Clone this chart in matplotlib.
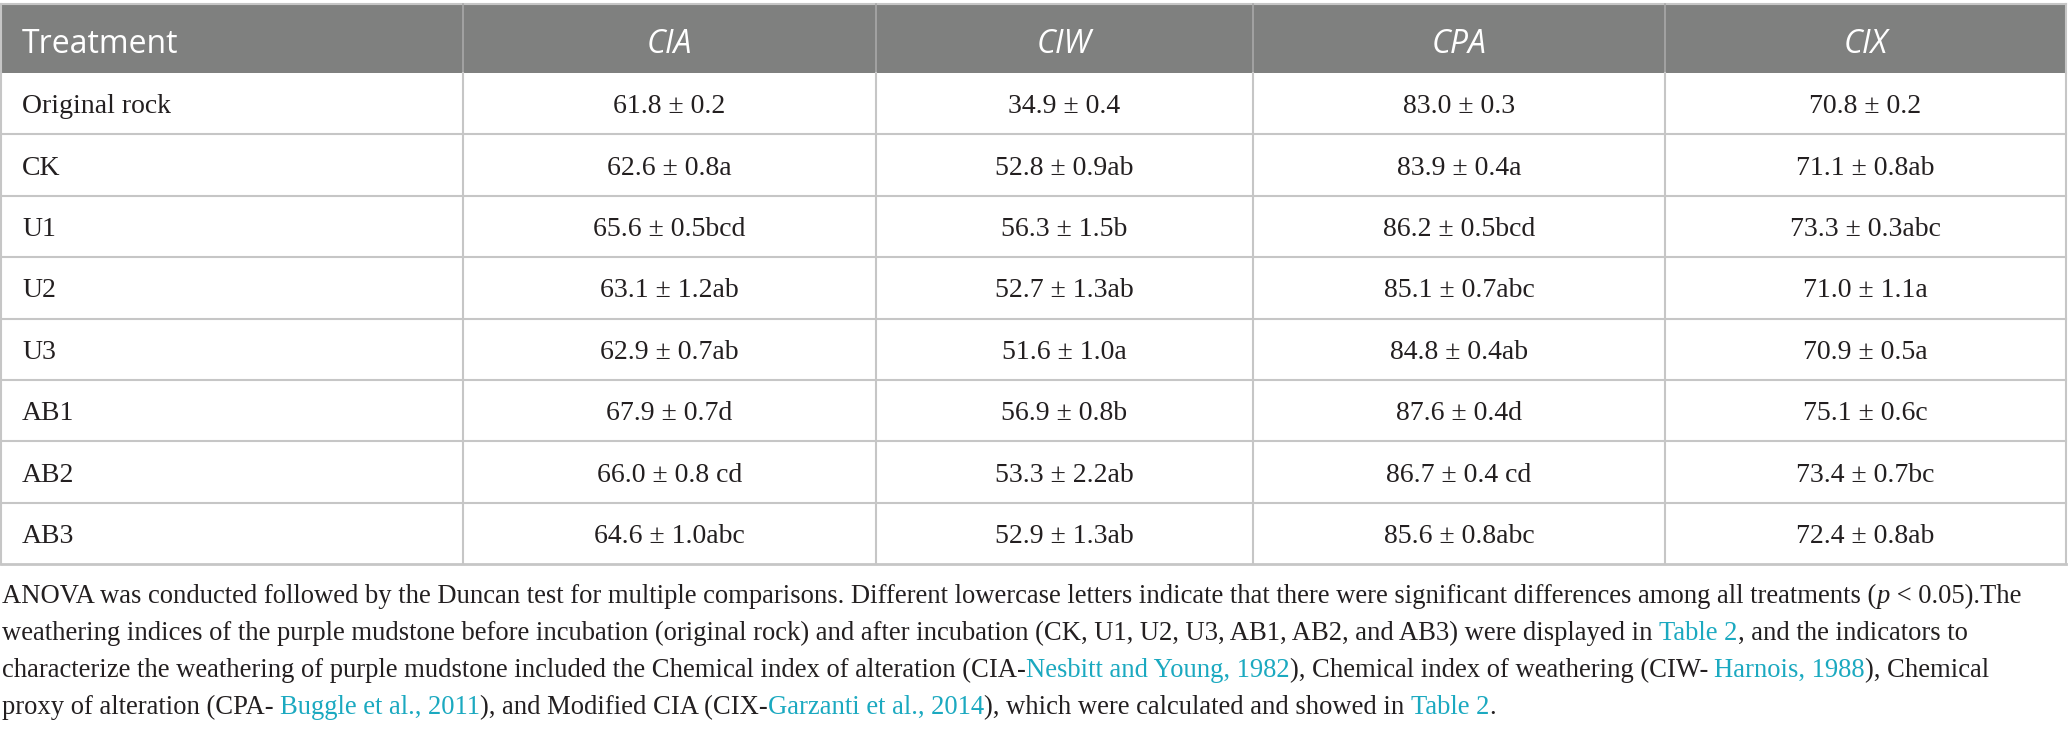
import matplotlib
matplotlib.use("Agg")
import matplotlib.pyplot as plt

# table content
columns = ["Treatment", "CIA", "CIW", "CPA", "CIX"]
treatments = ["Original rock", "CK", "U1", "U2", "U3", "AB1", "AB2", "AB3"]
cia = ["61.8 ± 0.2", "62.6 ± 0.8a", "65.6 ± 0.5bcd", "63.1 ± 1.2ab",
       "62.9 ± 0.7ab", "67.9 ± 0.7d", "66.0 ± 0.8 cd", "64.6 ± 1.0abc"]
ciw = ["34.9 ± 0.4", "52.8 ± 0.9ab", "56.3 ± 1.5b", "52.7 ± 1.3ab",
       "51.6 ± 1.0a", "56.9 ± 0.8b", "53.3 ± 2.2ab", "52.9 ± 1.3ab"]
cpa = ["83.0 ± 0.3", "83.9 ± 0.4a", "86.2 ± 0.5bcd", "85.1 ± 0.7abc",
       "84.8 ± 0.4ab", "87.6 ± 0.4d", "86.7 ± 0.4 cd", "85.6 ± 0.8abc"]
cix = ["70.8 ± 0.2", "71.1 ± 0.8ab", "73.3 ± 0.3abc", "71.0 ± 1.1a",
       "70.9 ± 0.5a", "75.1 ± 0.6c", "73.4 ± 0.7bc", "72.4 ± 0.8ab"]

# footnote lines: (text, kind) with kind in plain / link / italic
footnote = [
    [("ANOVA was conducted followed by the Duncan test for multiple comparisons. "
      "Different lowercase letters indicate that there were significant differences "
      "among all treatments (", "plain"), ("p", "italic"), (" < 0.05).The", "plain")],
    [("weathering indices of the purple mudstone before incubation (original rock) and "
      "after incubation (CK, U1, U2, U3, AB1, AB2, and AB3) were displayed in ", "plain"),
     ("Table 2", "link"), (", and the indicators to", "plain")],
    [("characterize the weathering of purple mudstone included the Chemical index of "
      "alteration (CIA-", "plain"), ("Nesbitt and Young, 1982", "link"),
     ("), Chemical index of weathering (CIW- ", "plain"), ("Harnois, 1988", "link"),
     ("), Chemical", "plain")],
    [("proxy of alteration (CPA- ", "plain"), ("Buggle et al., 2011", "link"),
     ("), and Modified CIA (CIX-", "plain"), ("Garzanti et al., 2014", "link"),
     ("), which were calculated and showed in ", "plain"), ("Table 2", "link"),
     (".", "plain")],
]

W, H = 2068, 729
col_edges = [1, 463, 876, 1253, 1665, 2066]
head_top, head_bot = 4, 73
row_h = 61.4

HEAD_BG = "#7f807f"
GRID = "#c6c6c6"
TEXT = "#231f20"
LINK = "#1ba9c0"

fig = plt.figure(figsize=(W / 100, H / 100), dpi=100)
ax = fig.add_axes([0, 0, 1, 1])
ax.set_xlim(0, W)
ax.set_ylim(H, 0)
ax.axis("off")

# header band
ax.fill_between([col_edges[0], col_edges[-1]], head_top, head_bot, color=HEAD_BG, lw=0)
ax.plot([col_edges[0], col_edges[-1]], [head_top, head_top], color=GRID, lw=1.5)
for x in col_edges[1:-1]:
    ax.plot([x, x], [head_top, head_bot], color="#a8a8a8", lw=1.2)

header_font = "Open Sans"
for i, name in enumerate(columns):
    if i == 0:
        ax.text(col_edges[0] + 21, 44, name, ha="left", va="center", color="white",
                fontsize=23, family=header_font)
    else:
        cx = (col_edges[i] + col_edges[i + 1]) / 2
        ax.text(cx, 44, name, ha="center", va="center", color="white",
                fontsize=23, family=header_font, style="italic")

# body rows
values = [cia, ciw, cpa, cix]
n = len(treatments)
table_bot = head_bot + n * row_h
for r in range(n):
    y0 = head_bot + r * row_h
    yc = y0 + row_h / 2 + 3
    ax.text(col_edges[0] + 21, yc, treatments[r], ha="left", va="center", color=TEXT,
            fontsize=20, family="Liberation Serif")
    for c, col in enumerate(values):
        cx = (col_edges[c + 1] + col_edges[c + 2]) / 2
        ax.text(cx, yc, col[r], ha="center", va="center", color=TEXT,
                fontsize=20, family="Liberation Serif")
    if r > 0:
        ax.plot([col_edges[0], col_edges[-1]], [y0, y0], color=GRID, lw=1.5)

ax.plot([col_edges[0], col_edges[-1]], [table_bot, table_bot], color=GRID, lw=2)
for x in col_edges:
    ax.plot([x, x], [head_bot, table_bot], color=GRID, lw=1.5)
ax.plot([col_edges[0], col_edges[0]], [head_top, head_bot], color=GRID, lw=1.5)
ax.plot([col_edges[-1], col_edges[-1]], [head_top, head_bot], color=GRID, lw=1.5)

# footnote, drawn piece by piece so links can be coloured
fig.canvas.draw()
renderer = fig.canvas.get_renderer()
inv = ax.transData.inverted()


def draw_line(pieces, yb, size):
    x = 2
    arts = []
    for txt, kind in pieces:
        t = ax.text(x, yb, txt, ha="left", va="baseline", fontsize=size,
                    family="Liberation Serif",
                    color=LINK if kind == "link" else TEXT,
                    style="italic" if kind == "italic" else "normal")
        arts.append(t)
        bb = t.get_window_extent(renderer=renderer)
        x = inv.transform((bb.x1, bb.y0))[0]
    return x, arts


# fit the first line to the width it has in the reference
end, tmp = draw_line(footnote[0], 603, 20)
for t in tmp:
    t.remove()
fsize = 20 * 2026 / end

line_y = [603, 640, 677, 714]
for pieces, yb in zip(footnote, line_y):
    draw_line(pieces, yb, fsize)

fig.savefig("out.png", dpi=100)
